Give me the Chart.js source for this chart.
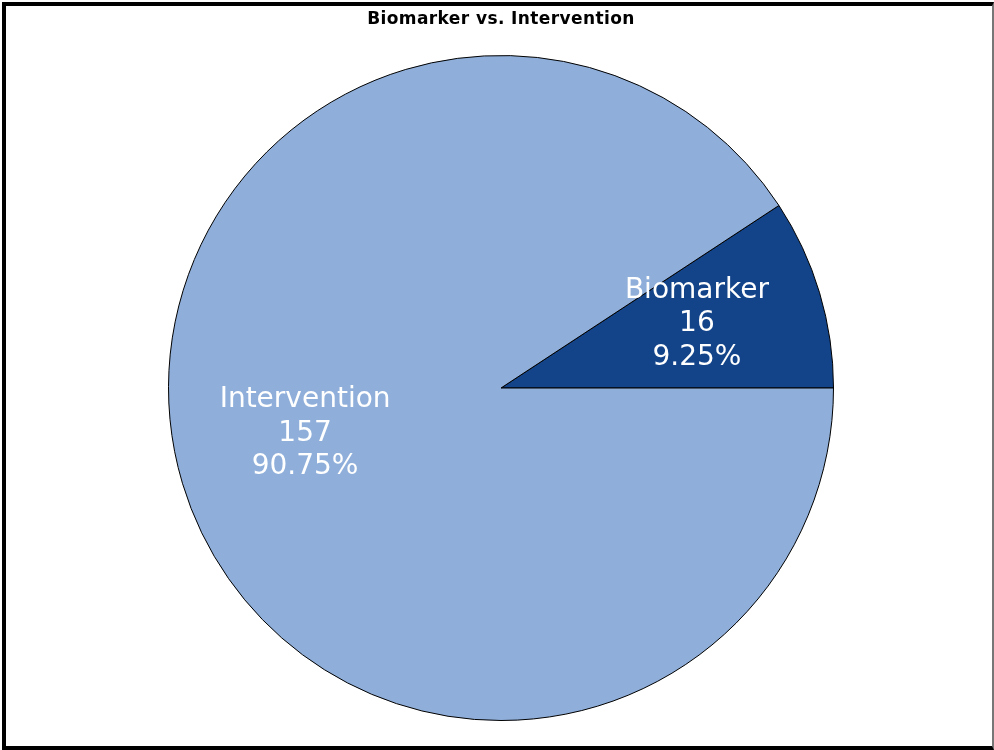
<!DOCTYPE html>
<html lang="en">
<head>
  <meta charset="UTF-8"/>
  <title>Biomarker vs. Intervention</title>
  <script src="https://cdn.jsdelivr.net/npm/chart.js"></script>
  <style>
    html, body { margin: 0; padding: 0; background: #fff; }
    body { width: 994px; height: 750px; position: relative; overflow: hidden; }
    .frame { position: absolute; left: 2px; top: 2px; width: 992px; height: 748px; box-sizing: border-box; border: 4px solid #000; border-right: 2px solid #777; }
    .title { position: absolute; top: 8px; left: 0; width: 1002px; text-align: center; font: bold 17px 'DejaVu Sans', sans-serif; letter-spacing: 0.4px; color: #000; }
    #chart { position: absolute; left: 0; top: 0; }
  </style>
</head>
<body>
  <canvas id="chart" width="994" height="750"></canvas>
  <div class="frame"></div>
  <div class="title">Biomarker vs. Intervention</div>

  <script>
    const categories = ['Biomarker', 'Intervention'];
    const counts = [16, 157];
    const sliceColors = ['#13448A', '#8FAFDA'];

    const total = counts.reduce((a, b) => a + b, 0);
    // first slice ends at 3 o'clock
    const startAngle = 90 - 360 * counts[0] / total;

    const sliceLabels = {
      id: 'sliceLabels',
      afterDatasetsDraw(chart) {
        const ctx = chart.ctx;
        const meta = chart.getDatasetMeta(0);
        ctx.save();
        ctx.fillStyle = '#fff';
        ctx.font = '28px "DejaVu Sans", sans-serif';
        ctx.textAlign = 'center';
        ctx.textBaseline = 'alphabetic';
        meta.data.forEach((arc, i) => {
          const p = arc.getProps(['x', 'y', 'startAngle', 'endAngle', 'outerRadius']);
          const mid = (p.startAngle + p.endAngle) / 2;
          const cx = p.x + Math.cos(mid) * p.outerRadius * 0.615;
          const cy = p.y + Math.sin(mid) * p.outerRadius * 0.576 - 12;
          const pct = (counts[i] / total * 100).toFixed(2) + '%';
          const lines = [categories[i], String(counts[i]), pct];
          lines.forEach((t, j) => ctx.fillText(t, cx, cy + 10 + (j - 1) * 33.5));
        });
        ctx.restore();
      }
    };

    new Chart(document.getElementById('chart'), {
      type: 'pie',
      data: {
        labels: categories,
        datasets: [{
          data: counts,
          backgroundColor: sliceColors,
          borderColor: '#000',
          borderWidth: 1,
          hoverOffset: 0
        }]
      },
      options: {
        responsive: false,
        animation: false,
        rotation: startAngle,
        layout: { padding: { top: 55, bottom: 29, left: 8, right: 0 } },
        events: [],
        plugins: {
          legend: { display: false },
          title: { display: false },
          tooltip: { enabled: false }
        }
      },
      plugins: [sliceLabels]
    });
  </script>
</body>
</html>
